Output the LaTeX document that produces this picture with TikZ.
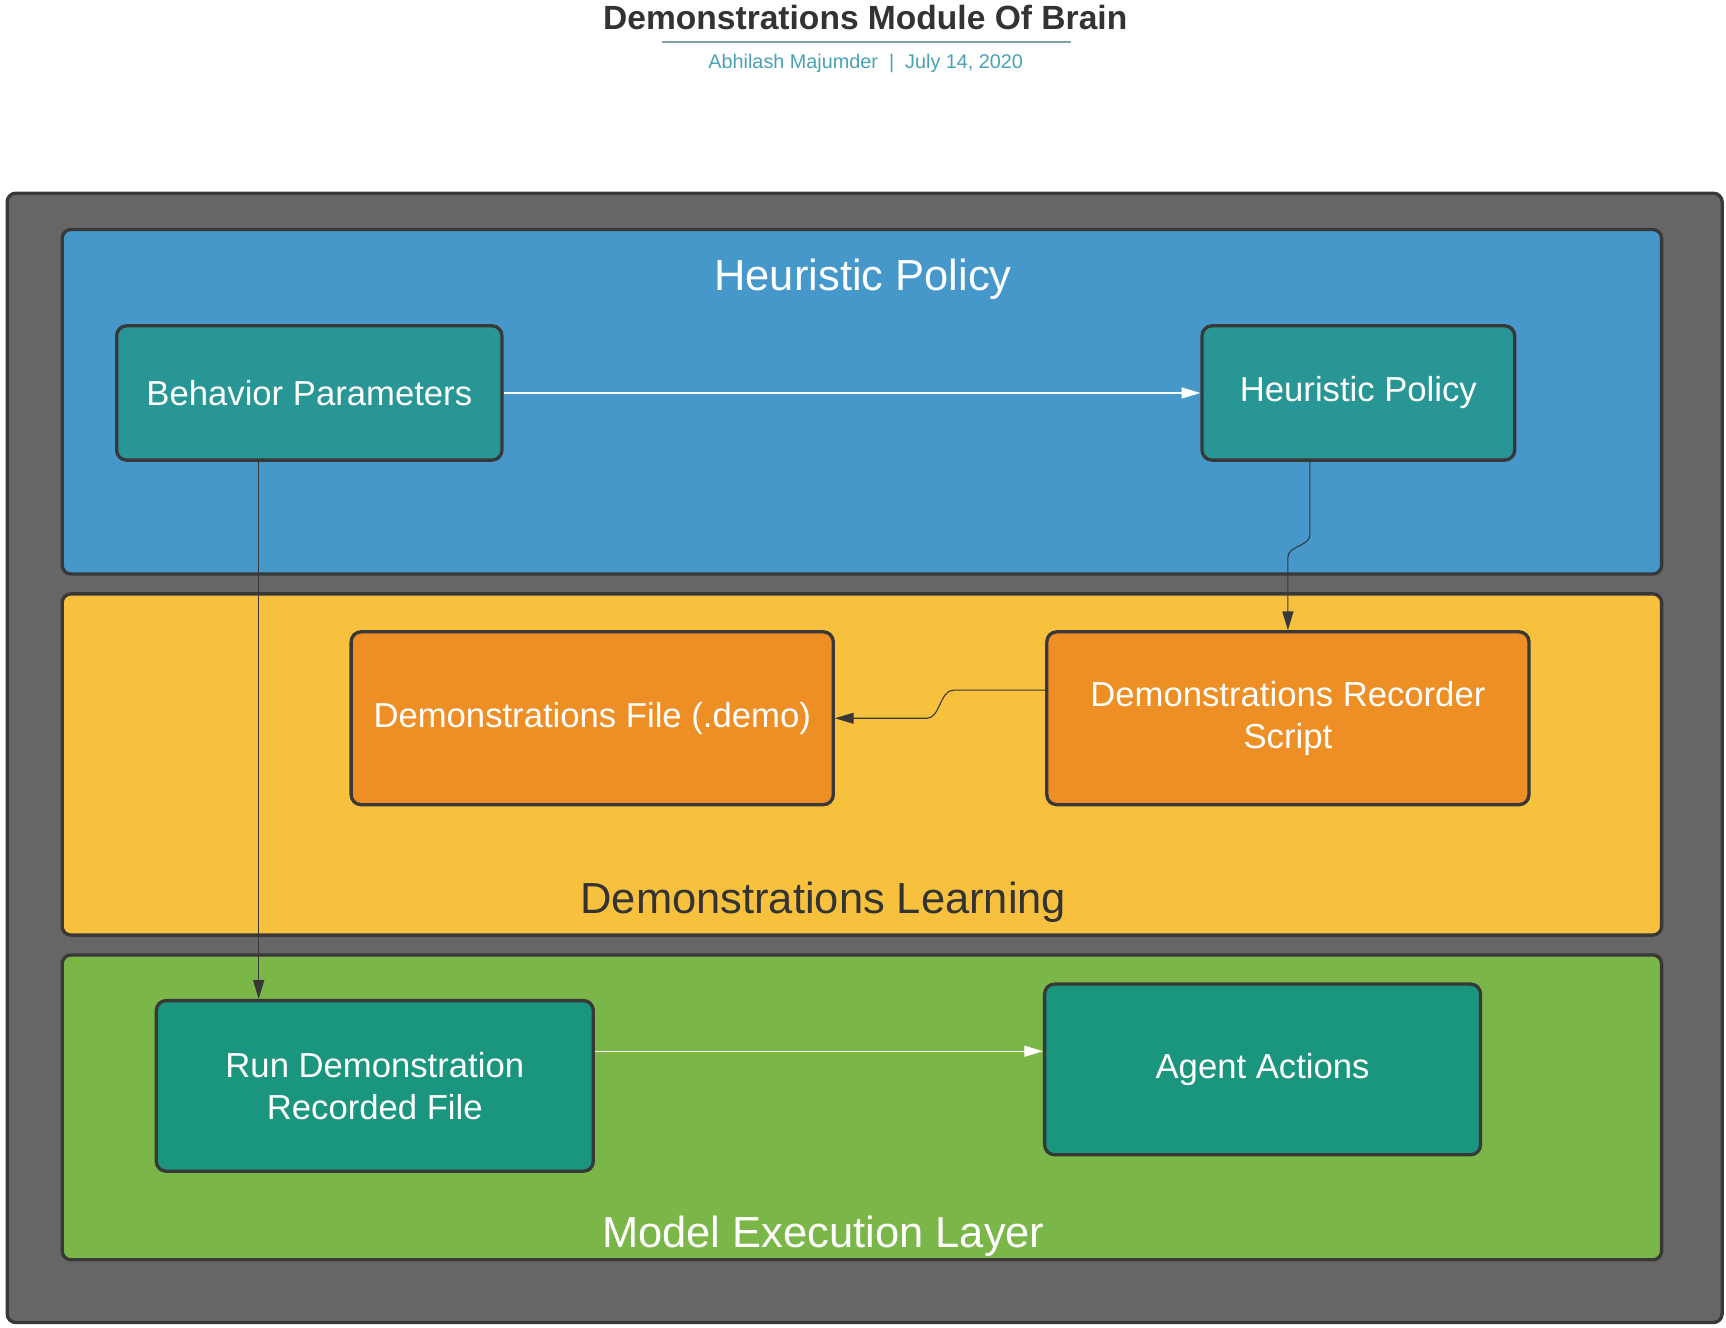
\documentclass[tikz,border=0pt]{standalone}
\usepackage{xcolor}
\usepackage{tikz}
\usetikzlibrary{arrows.meta,backgrounds,calc}
\usepackage{fontspec}
\setmainfont{Liberation Sans}

\definecolor{framegray}{HTML}{666666}
\definecolor{edgedark}{HTML}{383838}
\definecolor{policyblue}{HTML}{4698CB}
\definecolor{policyteal}{HTML}{289694}
\definecolor{learnyellow}{HTML}{F8C13D}
\definecolor{learnorange}{HTML}{EE8F26}
\definecolor{execgreen}{HTML}{7AB648}
\definecolor{execteal}{HTML}{19967D}
\definecolor{titledark}{HTML}{333333}
\definecolor{subteal}{HTML}{4AA0B4}
\definecolor{rulegray}{HTML}{7FA3A8}

\tikzset{
  panel/.style={draw=edgedark, line width=3pt, rounded corners=8pt, anchor=north west, inner sep=0pt},
  stepbox/.style={draw=edgedark, line width=3pt, rounded corners=9pt, text=white, align=center,
    font=\fontsize{31.5}{38}\selectfont, inner sep=0pt},
  heading/.style={anchor=base, font=\fontsize{39.5}{45}\selectfont},
  link/.style={draw=edgedark, line width=1pt, -{Triangle[length=17pt,width=10pt]}},
  flow/.style={draw=white, line width=1pt, -{Triangle[length=17pt,width=10pt]}}
}

\begin{document}
\begin{tikzpicture}[x=1pt,y=-1pt]
\useasboundingbox (0,0) rectangle (1568,1206.4);

\node[anchor=base, text=titledark, font=\fontsize{30.5}{36}\selectfont\bfseries] (title) at (786,27) {Demonstrations Module Of Brain};
\draw[rulegray, line width=1.5pt] (601,38) -- (973,38);
\node[anchor=base, text=subteal, font=\fontsize{18}{22}\selectfont] (byline) at (786.5,62) {Abhilash Majumder\ \ |\ \ July 14, 2020};

\node[panel, fill=framegray, minimum width=1558pt, minimum height=1026pt] (frame) at (5,174) {};
\node[panel, fill=policyblue, minimum width=1453pt, minimum height=313pt] (policy) at (55,207) {};
\node[panel, fill=learnyellow, minimum width=1453pt, minimum height=310pt] (learning) at (55,538) {};
\node[panel, fill=execgreen, minimum width=1453pt, minimum height=277pt] (execution) at (55,866) {};

\node[heading, text=white] (policyTitle) at (784,264) {Heuristic Policy};
\node[heading, text=titledark] (learningTitle) at (748,830) {Demonstrations Learning};
\node[heading, text=white] (executionTitle) at (748,1133) {Model Execution Layer};

\node[stepbox, fill=policyteal, minimum width=350pt, minimum height=122pt] (bp) at (281,357) {Behavior Parameters};
\node[stepbox, fill=policyteal, minimum width=284pt, minimum height=122pt] (hp) at (1234,357) {Heuristic Policy};
\node[stepbox, fill=learnorange, minimum width=438pt, minimum height=157pt] (df) at (538,652.5) {Demonstrations File (.demo)};
\node[stepbox, fill=learnorange, minimum width=438pt, minimum height=157pt] (drs) at (1170,652.5) {Demonstrations Recorder\\Script};
\node[stepbox, fill=execteal, minimum width=397pt, minimum height=155pt] (rdrf) at (340.5,986.5) {Run Demonstration\\Recorded File};
\node[stepbox, fill=execteal, minimum width=396pt, minimum height=155pt] (aa) at (1147,971.5) {Agent Actions};

\coordinate (hpleave) at (1190,486);
\coordinate (hpenter) at (1170,506);
\coordinate (drsleave) at (866,627);
\coordinate (dfenter) at (842,652.5);

\draw[flow] (bp.east) -- (hp.west);
\draw[link] ([xshift=-46pt]bp.south) -- ([xshift=-46pt]bp.south |- rdrf.north);
\draw[link] ([xshift=-44pt]hp.south) -- (hpleave) .. controls (1190,496) and (1170,496) .. (hpenter) -- (drs.north);
\draw[link] ([yshift=25.5pt]drs.west) -- (drsleave) .. controls (854,627) and (854,652.5) .. (dfenter) -- (df.east);
\draw[flow] ([yshift=31.5pt]rdrf.east) -- ([yshift=31.5pt]rdrf.east -| aa.west);
\end{tikzpicture}
\end{document}
